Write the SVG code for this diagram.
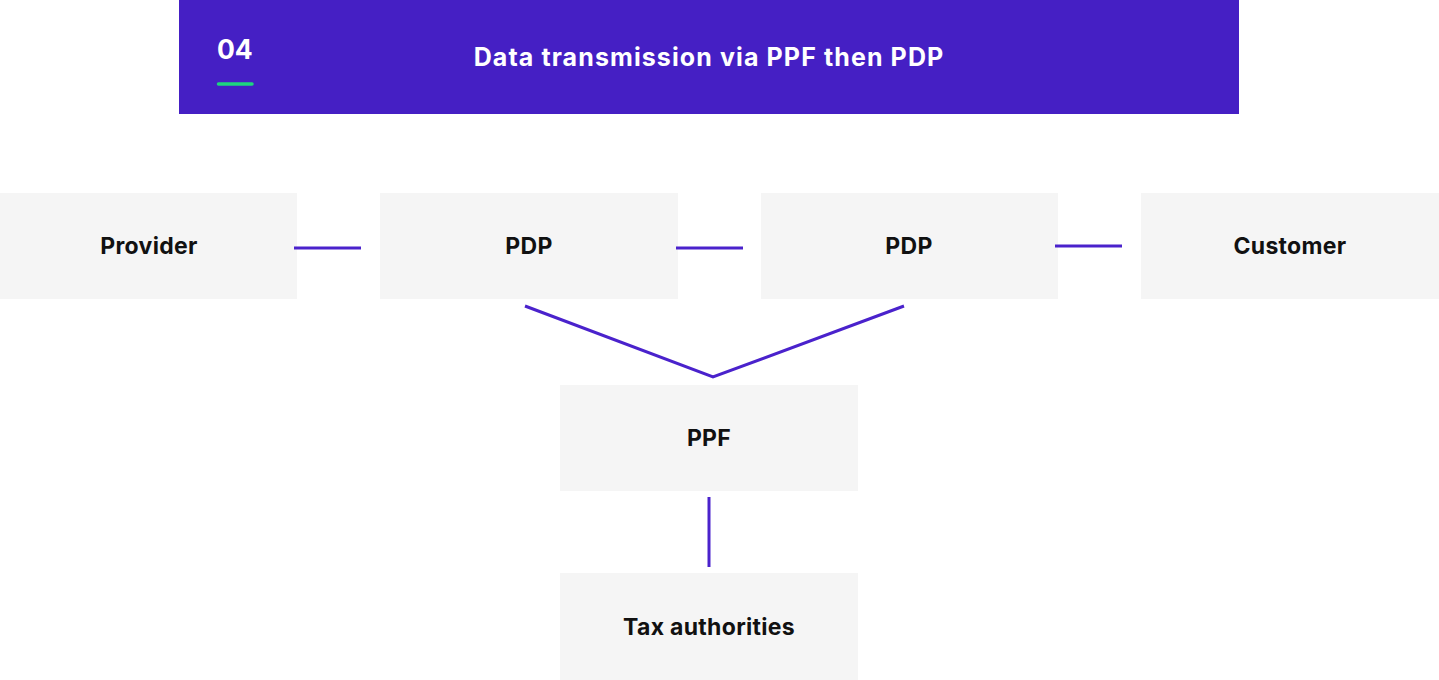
<svg xmlns="http://www.w3.org/2000/svg" width="1439" height="680" viewBox="0 0 1439 680">
<style>
.node rect{fill:#f5f5f5}
.node text{font-family:Inter,"Liberation Sans",sans-serif;font-weight:700;font-size:23px;letter-spacing:0.3px;fill:#111;text-anchor:middle}
.conn line,.conn polyline{stroke:#4a22cc;stroke-width:3;fill:none}
.hdr{font-family:Inter,"Liberation Sans",sans-serif;font-weight:700;fill:#fff}
</style>
<rect width="1439" height="680" fill="#fff"/>
<g id="header">
<rect x="179" y="0" width="1060" height="114" fill="#451fc4"/>
<text class="hdr" x="217" y="59" font-size="26.5">04</text>
<line x1="218.5" y1="84" x2="252" y2="84" stroke="#1ed67e" stroke-width="3.5" stroke-linecap="round"/>
<text class="hdr" x="709" y="66" font-size="25" letter-spacing="1.1" text-anchor="middle">Data transmission via PPF then PDP</text>
</g>
<g class="node" id="provider"><rect x="0" y="193" width="297" height="106"/><text x="149" y="254">Provider</text></g>
<g class="node" id="pdp1"><rect x="380" y="193" width="298" height="106"/><text x="529" y="254">PDP</text></g>
<g class="node" id="pdp2"><rect x="761" y="193" width="297" height="106"/><text x="909" y="254">PDP</text></g>
<g class="node" id="customer"><rect x="1141" y="193" width="298" height="106"/><text x="1290" y="254">Customer</text></g>
<g class="node" id="ppf"><rect x="560" y="385" width="298" height="106"/><text x="709" y="446">PPF</text></g>
<g class="node" id="tax"><rect x="560" y="573" width="298" height="107"/><text x="709" y="635">Tax authorities</text></g>
<g class="conn" id="connectors">
<line x1="294" y1="248" x2="361" y2="248"/>
<line x1="676" y1="248" x2="743" y2="248"/>
<line x1="1055" y1="246" x2="1122" y2="246"/>
<polyline points="525,306 713,377 904,306"/>
<line x1="709" y1="497" x2="709" y2="567"/>
</g>
</svg>
